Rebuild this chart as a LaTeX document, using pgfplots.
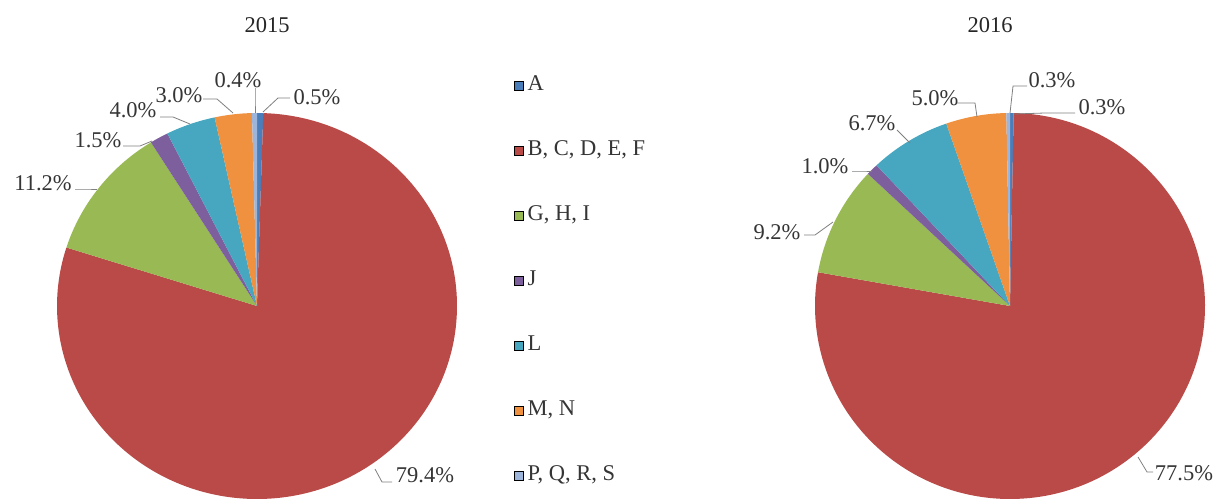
\documentclass[border=0pt]{standalone}
\usepackage{pgfplots}
\pgfplotsset{compat=1.18}
\usepackage{pgfplotstable}
\usepackage{fontspec}
\setmainfont{Liberation Serif}

\definecolor{cA}{HTML}{4A7EBB}
\definecolor{cB}{HTML}{B94A47}
\definecolor{cG}{HTML}{98B954}
\definecolor{cJ}{HTML}{7D5F9E}
\definecolor{cL}{HTML}{47A7C1}
\definecolor{cM}{HTML}{F0913F}
\definecolor{cP}{HTML}{9DB5DA}
\definecolor{txt}{HTML}{353535}
\definecolor{lead}{HTML}{7F7F7F}

% value, label centre (lx,ly), leader line points (px coordinates, y downwards)
\pgfplotstableread{
val  lx   ly  ax   ay  bx   by  ex   ey
0.5  317  97  290  98  278  98  263  112
79.4 425  475 392  482 382  482 375  469
11.2 43   183 75   189 86   189 97   189
1.5  98   140 123  146 140  146 152  141
4.0  133  110 160  117 173  117 190  124
3.0  179  95  203  99  217  99  233  113
0.4  238  80  255  88  255  100 255  113
}\pieA

\pgfplotstableread{
val  lx   ly  ax   ay  bx   by  ex   ey
0.3  1102 107 1075 113 1045 113 1014 114
77.5 1184 473 1153 472 1147 472 1138 457
9.2  777  232 804  235 815  235 833  222
1.0  825  166 852  171 862  171 872  171
6.7  872  123 897  130 903  136 910  143
5.0  935  98  957  103 975  103 977  117
0.3  1052 80  1027 86  1013 86  1010 113
}\pieB

\newcommand\drawpie[5]{%
  \gdef\cum{0}%
  \foreach \i/\c in {0/cA,1/cB,2/cG,3/cJ,4/cL,5/cM,6/cP}{%
    \pgfplotstablegetelem{\i}{val}\of#1\let\v\pgfplotsretval
    \pgfmathsetmacro\sa{90-3.6*\cum}%
    \pgfmathsetmacro\ea{90-3.6*(\cum+\v)}%
    \fill[\c] (axis cs:#2,#3) -- ++(\sa:#4pt and #5pt)
      arc[start angle=\sa, end angle=\ea, x radius=#4pt, y radius=#5pt] -- cycle;
    \pgfmathsetmacro\newcum{\cum+\v}\xdef\cum{\newcum}%
  }%
  \foreach \i in {0,...,6}{%
    \pgfplotstablegetelem{\i}{val}\of#1\let\v\pgfplotsretval
    \pgfplotstablegetelem{\i}{lx}\of#1\let\lx\pgfplotsretval
    \pgfplotstablegetelem{\i}{ly}\of#1\let\ly\pgfplotsretval
    \pgfplotstablegetelem{\i}{ax}\of#1\let\ax\pgfplotsretval
    \pgfplotstablegetelem{\i}{ay}\of#1\let\ay\pgfplotsretval
    \pgfplotstablegetelem{\i}{bx}\of#1\let\bx\pgfplotsretval
    \pgfplotstablegetelem{\i}{by}\of#1\let\by\pgfplotsretval
    \pgfplotstablegetelem{\i}{ex}\of#1\let\ex\pgfplotsretval
    \pgfplotstablegetelem{\i}{ey}\of#1\let\ey\pgfplotsretval
    \draw[lead, line width=0.8pt] (axis cs:\ax,\ay) -- (axis cs:\bx,\by) -- (axis cs:\ex,\ey);
    \node[txt, inner sep=0pt] at (axis cs:\lx,\ly)
      {\pgfmathprintnumber[fixed,fixed zerofill,precision=1,assume math mode=true]{\v}\%};
  }%
}

\begin{document}
\begin{tikzpicture}[font=\fontsize{22.5}{26}\selectfont]
\begin{axis}[
  name=ax,
  scale only axis, width=1217pt, height=502pt,
  xmin=0, xmax=1217, ymin=0, ymax=502, y dir=reverse,
  hide axis, clip=true,
  legend image code/.code={\fill[#1] (0pt,-4.5pt) rectangle (9pt,4.5pt);},
  legend style={at={(axis cs:511,73)}, anchor=north west, draw=none, fill=none,
    font=\fontsize{22.5}{26}\selectfont, text=txt, row sep=45pt,
    nodes={inner sep=0pt, text height=15pt, text depth=5pt},
    /tikz/every odd column/.style={column sep=4pt}},
  legend cell align=left,
]
\addlegendimage{fill=cA}
\addlegendimage{fill=cB}
\addlegendimage{fill=cG}
\addlegendimage{fill=cJ}
\addlegendimage{fill=cL}
\addlegendimage{fill=cM}
\addlegendimage{fill=cP}
\legend{A, {B, C, D, E, F}, {G, H, I}, J, L, {M, N}, {P, Q, R, S}}
\pgfplotsextra{
  \drawpie{\pieA}{257}{306}{200}{193}
  \drawpie{\pieB}{1010}{306}{195}{193}
  \node[black!85] at (axis cs:267,25) {2015};
  \node[black!85] at (axis cs:990,25) {2016};
}
\end{axis}
\pgfresetboundingbox
\path (ax.south west) rectangle (ax.north east);
\end{tikzpicture}
\end{document}
